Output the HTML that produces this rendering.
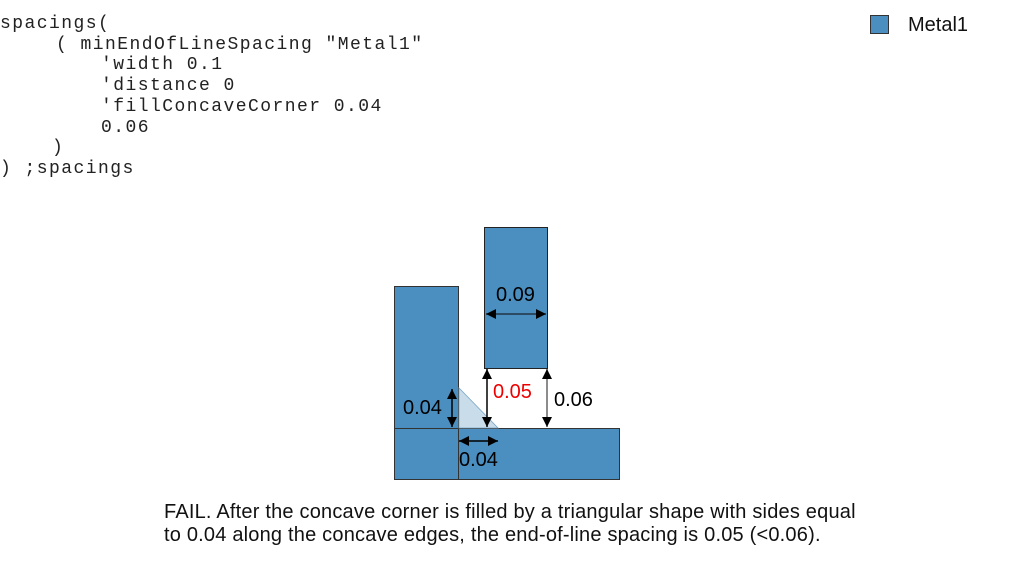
<!DOCTYPE html>
<html><head><meta charset="utf-8"><style>
html,body{margin:0;padding:0;background:#fff;width:1013px;height:572px;overflow:hidden}
.code{position:absolute;font-family:"Liberation Mono",monospace;font-size:18px;letter-spacing:1.45px;color:#222;white-space:pre;line-height:20px}
.cap{position:absolute;left:164px;font-family:"Liberation Sans",sans-serif;font-size:20px;letter-spacing:0.2px;color:#111;white-space:pre}
</style></head><body>
<div>
<div class="code" style="left:0;top:14px">spacings(</div>
<div class="code" style="left:56px;top:35px">( minEndOfLineSpacing "Metal1"</div>
<div class="code" style="left:101px;top:55px">'width 0.1</div>
<div class="code" style="left:101px;top:76px">'distance 0</div>
<div class="code" style="left:101px;top:97px">'fillConcaveCorner 0.04</div>
<div class="code" style="left:101px;top:118px">0.06</div>
<div class="code" style="left:52px;top:138px">)</div>
<div class="code" style="left:0;top:159px">) ;spacings</div>
</div>
<svg width="1013" height="572" style="position:absolute;left:0;top:0">
<defs>
<marker id="ah" viewBox="0 0 10 10" refX="10" refY="5" markerWidth="10" markerHeight="10" markerUnits="userSpaceOnUse" orient="auto-start-reverse"><path d="M0,0L10,5L0,10z" fill="#000"/></marker>
</defs>
<g>
<rect x="870.5" y="15.5" width="18" height="18" fill="#4a8fc0" stroke="#333"/>
<text x="908" y="31" font-family="Liberation Sans,sans-serif" font-size="20" fill="#111">Metal1</text>
</g>
<rect x="394.5" y="286.5" width="64" height="142" fill="#4a8fc0" stroke="#333"/>
<rect x="394.5" y="428.5" width="225" height="51" fill="#4a8fc0" stroke="#333"/>
<line x1="458.5" y1="428" x2="458.5" y2="479" stroke="#333"/>
<rect x="484.5" y="227.5" width="63" height="141" fill="#4a8fc0" stroke="#222"/>
<polygon points="459,388 459,428 498,428" fill="#c8dcea" stroke="#7aa6c8" stroke-width="0.8"/>
<g stroke="#000" stroke-width="1.5" fill="none">
<line x1="486" y1="314" x2="546" y2="314" marker-start="url(#ah)" marker-end="url(#ah)" stroke="#234"/>
<line x1="487" y1="369" x2="487" y2="427" marker-start="url(#ah)" marker-end="url(#ah)"/>
<line x1="547" y1="369" x2="547" y2="427" marker-start="url(#ah)" marker-end="url(#ah)" stroke="#666"/>
<line x1="452" y1="389" x2="452" y2="427" marker-start="url(#ah)" marker-end="url(#ah)"/>
<line x1="459" y1="441" x2="498" y2="441" marker-start="url(#ah)" marker-end="url(#ah)"/>
</g>
<g font-family="Liberation Sans,sans-serif" font-size="20" fill="#000">
<text x="496" y="301">0.09</text>
<text x="493" y="398" fill="#e00">0.05</text>
<text x="554" y="406">0.06</text>
<text x="403" y="414">0.04</text>
<text x="459" y="466">0.04</text>
</g>
</svg>
<div class="cap" style="top:501px">FAIL. After the concave corner is filled by a triangular shape with sides equal</div>
<div class="cap" style="top:524px">to 0.04 along the concave edges, the end-of-line spacing is 0.05 (&lt;0.06).</div>
</body></html>
